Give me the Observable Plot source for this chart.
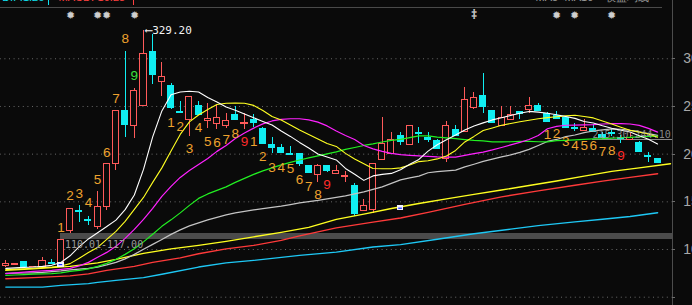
<!DOCTYPE html>
<html><head><meta charset="utf-8">
<script src="https://cdn.jsdelivr.net/npm/d3@7"></script>
<script src="https://cdn.jsdelivr.net/npm/@observablehq/plot@0.6"></script>
<style>
html,body{margin:0;padding:0;background:#0a0a0a;overflow:hidden}
#chart{width:692px;height:305px}
</style></head><body><div id="chart"></div>
<script>
// ---- candles (index 0..71) ----
const opens  = [82.6,83.9,86.5,81.4,81.6,86.0,85.5,119.0,140.5,131.0,
 123.5,144.2,190.0,245.1,229.4,250.3,306.9,275.9,271.0,243.7,
 235.3,250.0,235.0,231.9,229.8,241.3,231.1,235.3,225.9,209.9,
 206.3,200.2,199.7,187.1,178.4,187.1,179.5,175.9,166.2,140.3,
 141.8,193.4,200.4,218.6,209.9,222.2,216.8,213.3,195.2,224.9,
 223.1,248.6,260.8,244.8,229.4,236.1,244.0,246.6,250.3,242.4,
 239.5,238.2,227.8,224.1,226.6,220.3,221.9,216.7,215.1,211.5,
 198.1,194.5];
const closes = [85.2,85.2,81.6,81.7,87.6,85.0,110.01,142.8,139.5,130.0,
 144.5,189.2,244.8,230.8,265.7,304.5,283.5,280.7,248.6,242.7,
 259.8,241.3,237.1,237.8,234.3,236.1,232.2,232.5,210.9,206.3,
 201.1,199.2,190.0,180.1,187.9,182.2,181.9,177.4,136.8,145.9,
 189.9,210.9,215.1,212.6,229.8,220.7,214.4,205.7,229.1,219.1,
 256.3,259.1,249.3,232.9,238.2,240.6,242.4,250.0,245.1,233.6,
 237.1,227.3,226.7,227.7,223.1,217.2,220.9,215.6,216.8,202.1,
 197.1,191.0];
const highs  = [88.6,85.5,87.6,82.0,92.0,89.7,110.01,142.8,146.3,135.0,
 160.9,189.2,244.8,307.7,269.2,329.2,325.5,296.4,274.4,255.2,
 259.8,255.2,252.8,251.1,242.4,250.0,242.4,241.3,228.3,217.2,
 209.9,208.1,199.7,187.1,189.2,188.2,188.2,181.9,169.0,152.2,
 189.9,238.2,223.1,223.1,229.8,228.3,222.4,215.7,234.3,230.1,
 270.2,264.4,284.3,244.8,250.0,250.0,245.1,259.1,252.8,243.7,
 244.8,238.2,231.9,236.1,230.8,222.4,225.6,219.6,221.4,213.6,
 201.5,195.8];
const lows   = [81.0,83.6,81.3,81.2,81.3,84.8,83.4,117.00,128.4,125.3,
 121.1,141.0,182.9,217.5,216.2,250.3,272.8,260.5,246.6,242.7,
 218.9,241.3,226.6,225.6,227.3,236.1,225.9,228.3,210.9,200.4,
 201.1,199.2,187.1,180.1,170.7,181.2,179.5,170.7,134.7,140.3,
 137.6,193.4,200.4,209.1,208.8,211.5,212.6,205.7,191.6,219.1,
 223.1,246.6,243.0,231.9,229.4,236.1,236.1,242.4,245.1,233.6,
 237.1,227.3,223.3,224.1,223.1,215.4,218.6,211.5,215.1,202.1,
 191.6,191.0];

// ---- moving averages, one value per candle ----
const ma5 = [80.2,80.8,81.3,81.6,82.3,83.4,86.4,93.4,103.0,111.1,
 117.5,124.2,130.8,141.8,157.2,184.0,218.1,245.3,262.2,265.2,
 266.0,265.2,259.4,254.7,249.5,246.0,242.0,238.2,234.3,230.5,
 224.3,218.6,212.3,206.5,200.2,197.1,193.9,185.0,179.0,172.5,
 177.2,178.8,179.8,183.7,189.5,194.5,203.2,209.9,215.2,220.1,
 225.4,229.6,232.8,235.9,238.2,240.6,242.9,244.8,244.1,242.9,
 241.3,239.5,237.5,234.3,232.7,229.8,227.2,225.1,223.2,219.3,
 215.6,210.7];
const ma10 = [78.9,79.4,79.9,80.4,81.0,81.6,82.8,85.2,90.9,96.8,
 102.2,110.6,119.0,129.5,142.1,154.6,170.4,185.6,203.4,220.7,
 233.8,241.1,246.9,252.1,253.4,253.5,253.4,251.1,245.8,239.5,
 235.9,230.6,225.4,220.7,216.0,211.2,208.1,200.8,195.0,190.0,
 185.0,184.7,184.7,185.6,188.7,192.2,193.1,195.0,198.1,203.9,
 212.8,218.6,224.7,227.5,230.3,232.2,234.0,235.6,237.1,238.3,
 239.2,240.1,240.8,239.5,238.0,234.8,231.6,228.2,225.0,223.1,
 221.2,217.8];
const ma20 = [74.7,75.5,76.3,77.1,77.6,78.1,79.2,80.2,82.9,86.5,
 91.8,97.0,103.3,111.7,121.1,131.6,143.1,155.7,166.2,175.6,
 182.9,189.2,195.5,202.9,209.1,216.5,222.2,227.3,231.7,234.8,
 236.4,237.1,237.1,235.9,233.6,229.6,224.3,219.6,215.4,209.1,
 205.5,202.9,200.8,199.4,198.7,198.1,197.6,197.1,196.9,196.9,
 198.7,200.5,202.1,204.4,207.0,209.7,212.3,215.4,219.6,226.6,
 229.1,230.3,230.5,230.7,231.0,231.6,231.9,231.9,231.6,230.1,
 227.0,223.1];
const ma30 = [72.9,73.3,73.7,74.2,74.5,74.7,75.5,77.1,78.1,79.7,
 82.3,85.5,89.7,94.9,100.7,108.0,116.0,124.3,131.1,138.4,
 146.3,153.6,158.3,162.0,165.7,170.4,174.6,178.8,182.4,185.6,
 188.7,191.3,193.9,196.0,198.1,200.2,202.3,205.0,207.0,209.1,
 210.7,212.7,214.4,215.4,217.3,219.1,219.1,217.8,217.0,216.2,
 215.2,214.4,213.9,212.8,212.8,213.0,213.3,213.3,213.0,212.8,
 214.1,214.4,214.9,215.4,216.0,216.2,216.7,217.2,217.6,218.1,
 218.6,218.9];
const ma60 = [75.0,75.2,75.4,75.6,76.0,76.8,77.6,78.7,79.5,80.2,
 81.6,83.9,86.5,90.2,94.9,100.2,105.4,110.6,115.9,120.6,
 124.8,127.9,131.1,133.7,136.3,138.4,140.0,141.5,142.8,144.2,
 145.5,147.1,148.9,150.2,151.5,153.1,154.6,156.2,158.3,160.4,
 163.0,165.7,169.3,173.0,175.1,177.0,180.5,181.7,182.4,183.2,
 186.6,189.4,192.4,194.8,197.1,199.2,201.8,205.0,209.1,213.3,
 215.4,218.3,220.1,222.6,224.3,225.4,226.4,226.1,224.9,223.3,
 221.5,219.6];
// long averages, read at fewer points
const maYIdx = [0,3,7,10,12,15,18,21,24,27,30,33,36,39,42,45,48,51,54,57,60,63,66,69,72.4];
const maYVal = [78.1,79.7,82.3,86.0,89.7,96.0,100.7,104.3,108.5,113.3,118.0,123.2,131.6,137.1,143.0,148.3,153.1,157.8,162.4,167.1,171.9,177.0,181.9,185.6,190.0];
const maRIdx = [0,3,7,9,11,14,16,19,21,24,27,30,32,36,40,43,46,50,54,58,62,65,68,71];
const maRVal = [69.4,70.5,72.4,74.5,78.1,82.3,86.5,91.2,95.6,100.7,104.3,109.6,114.3,122.7,128.7,133.1,138.9,147.3,155.2,161.5,167.4,171.7,175.7,179.5];
const maCIdx = [0,4,6,9,10,12,15,17,21,24,27,32,36,40,43,47,51,55,58,62,65,68,71];
const maCVal = [60.6,60.6,62.4,64.2,65.6,67.7,70.5,74.0,81.6,86.0,88.6,93.9,97.3,102.7,105.1,110.8,116.6,121.4,125.0,129.0,131.8,134.6,138.6];

// ---- TD sequential counts ----
const tdIdx  = [6,7,8,9,10,11,12,13,14, 18,19,20,21,22,23,24,25,26, 27,28,29,30,31,32,33,34,35, 59,60,61,62,63,64,65,66,67];
const tdText = ["1","2","3","4","5","6","7","8","9", "1","2","3","4","5","6","7","8","9", "1","2","3","4","5","6","7","8","9", "1","2","3","4","5","6","7","8","9"];
const tdPos  = [122.9,156.0,158.8,149.1,173.5,201.8,258.1,321.0,281.8,
 232.9,228.3,205.7,227.7,213.0,212.3,214.9,221.4,213.3,
 213.3,196.9,185.8,185.8,184.7,173.2,165.4,157.8,168.0,
 220.1,221.7,212.6,209.1,209.1,209.1,202.1,203.2,198.7];
const tdKind = ["o","o","o","o","o","o","o","o","g", "o","o","o","o","o","o","o","o","r", "o","o","o","o","o","o","o","o","r", "o","o","o","o","o","o","o","o","r"];

// ---- signals, gaps, marks ----
const starIdx = [7,10,11,14,60,62,66];
const specialIdx = [51];
const markerIdx = [6,43];
const markerPrice = [84.2,143.3];
const gapBandStart = [6];  const gapBandLow = [110.01]; const gapBandHigh = [117.00];
const gapLineStart = [63.9]; const gapLineLow = [215.30]; const gapLineHigh = [244.10];
const peakIdx = 15, peakPrice = 329.20;
const gridTicks = [50,100,150,200,250,300];
const labelTicks = [100,150,200,250,300];
// header row (cut off at the top edge in the source)
const headTexts = ["DIF:1.26", "MACD:-10.28", "MA5<MA10", "收盘均线"];
const headPos   = [-0.4, 5.74, 57.7, 65.3];
const headKind  = ["c", "r", "g", "g"];
const headBars  = [4.65, 13.9];
const headBarKind = ["c", "r"];

const RED = "#ff5a5a", CYAN = "#10eef2", BG = "#0a0a0a";
const TDC = {o:"#eea22e", g:"#3ce03c", r:"#ff2a2a"};
const HC = {c:"#10e0f0", r:"#ff4040", g:"#9a9a9a"};
const MONO = "DejaVu Sans Mono, monospace";
const SANS = "Liberation Sans, Arial, sans-serif";

const candles = opens.map((o,i)=>({i, o, c:closes[i], h:highs[i], l:lows[i], up: closes[i] >= opens[i]}));
const series = (arr, idx) => arr.map((v,k)=>({i: idx ? idx[k] : k, v}));
const td = tdIdx.map((i,k)=>({i, t:tdText[k], p:tdPos[k], col:TDC[tdKind[k]]}));
const gapsBand = gapBandStart.map((s,k)=>({s, lo:gapBandLow[k], hi:gapBandHigh[k]}));
const gapsLine = gapLineStart.map((s,k)=>({s, lo:gapLineLow[k], hi:gapLineHigh[k]}));
const markers = markerIdx.map((i,k)=>({i, p:markerPrice[k]}));
const heads = headTexts.map((t,k)=>({t, x:headPos[k], col:HC[headKind[k]]}));
const bars = headBars.map((x,k)=>({x, col:HC[headBarKind[k]]}));

const AXIS_X = 72.6, LEFT_X = -0.6, TOP_PRICE = 353.8, STAR_PRICE = 345.4, HEAD_PRICE = 364.5;
const crisp = {shapeRendering:"crispEdges"};

const chart = Plot.plot({
  width: 692, height: 305, margin: 0,
  style: {background: BG, overflow: "hidden"},
  x: {type:"linear", domain:[0,71], range:[5.3,657.1], axis:null},
  y: {type:"linear", domain:[41.3,361.1], range:[305,0], axis:null},
  marks: [
    Plot.ruleY(gridTicks, {y:d=>d, x1:LEFT_X, x2:AXIS_X, stroke:"#6c6c6c", strokeDasharray:"1,3.6"}),
    Plot.ruleY([TOP_PRICE], {x1:LEFT_X, x2:71.5, stroke:"#4a4a4a", ...crisp}),
    Plot.ruleX([AXIS_X], {stroke:"#4c4c4c", ...crisp}),
    Plot.ruleY(gridTicks, {y:d=>d, x1:AXIS_X, x2:AXIS_X+0.35, stroke:"#6c6c6c", ...crisp}),
    Plot.text(labelTicks, {x:AXIS_X+1.2, y:d=>d, text:d=>d.toFixed(2), textAnchor:"start", fill:"#a8a8a8", fontSize:14, fontFamily:SANS}),
    // header fragments
    Plot.text(heads, {x:"x", y:HEAD_PRICE, text:"t", fill:"col", textAnchor:"start", fontSize:11, fontFamily:SANS}),
    Plot.ruleX(bars, {x:"x", y1:356.0, y2:361.1, stroke:"col", ...crisp}),
    // gaps
    Plot.rect(gapsBand, {x1:"s", x2:AXIS_X, y1:"lo", y2:"hi", fill:"#4b4b4b", ...crisp}),
    Plot.ruleY(gapsLine, {y:"lo", x1:"s", x2:AXIS_X, stroke:"#8a8a8a", ...crisp}),
    // candles
    Plot.ruleX(candles, {x:"i", y1:"l", y2:"h", stroke:d=>d.up?RED:CYAN, ...crisp}),
    Plot.rect(candles, {x1:d=>d.i-0.33, x2:d=>d.i+0.33, y1:"o", y2:"c", fill:d=>d.up?BG:CYAN, stroke:d=>d.up?RED:CYAN, ...crisp}),
    // moving averages
    Plot.line(series(maCVal, maCIdx), {x:"i", y:"v", stroke:"#1ec8f5", strokeWidth:1.4}),
    Plot.line(series(maRVal, maRIdx), {x:"i", y:"v", stroke:"#ff3a3a", strokeWidth:1.4}),
    Plot.line(series(maYVal, maYIdx), {x:"i", y:"v", stroke:"#ffff20", strokeWidth:1.4}),
    Plot.line(series(ma60), {x:"i", y:"v", stroke:"#c4c4c4", strokeWidth:1.2}),
    Plot.line(series(ma30), {x:"i", y:"v", stroke:"#22f022", strokeWidth:1.2}),
    Plot.line(series(ma20), {x:"i", y:"v", stroke:"#ff22ff", strokeWidth:1.2}),
    Plot.line(series(ma10), {x:"i", y:"v", stroke:"#ffff22", strokeWidth:1.1}),
    Plot.line(series(ma5), {x:"i", y:"v", stroke:"#ffffff", strokeWidth:1.1}),
    // markers
    Plot.rect(markers, {x1:d=>d.i-0.36, x2:d=>d.i+0.36, y1:d=>d.p-2.7, y2:d=>d.p+2.7, fill:"#f4f4ff", ...crisp}),
    Plot.ruleY(markers, {y:"p", x1:d=>d.i-0.2, x2:d=>d.i+0.2, stroke:"#1a2cff", strokeWidth:1.2}),
    // gap labels
    Plot.text(gapsBand, {x:"s", y:"lo", text:d=>`${d.lo.toFixed(2)}-${d.hi.toFixed(2)}`, textAnchor:"start", lineAnchor:"top", dx:4, dy:1, fill:"#9a9a9a", fontSize:10, fontFamily:MONO}),
    Plot.text(gapsLine, {x:"s", y:"lo", text:d=>`${d.lo.toFixed(2)}-${d.hi.toFixed(2)}`, textAnchor:"start", lineAnchor:"bottom", dx:0, dy:-2, fill:"#a0a0a0", fillOpacity:0.85, fontSize:10, fontFamily:MONO}),
    // TD counts
    Plot.text(td, {x:"i", y:"p", text:"t", fill:"col", fontSize:13.5, fontFamily:SANS}),
    // signals
    Plot.text(starIdx, {x:d=>d, y:STAR_PRICE, text:()=>"✹", fill:"#cfcfcf", fontSize:11}),
    Plot.text(specialIdx, {x:d=>d, y:STAR_PRICE, text:()=>"‡", fill:"#cfcfcf", fontSize:12, fontWeight:"bold"}),
    // peak annotation
    Plot.text([{i:peakIdx, p:peakPrice}], {x:"i", y:"p", text:d=>"⟵" + d.p.toFixed(2), textAnchor:"start", dx:2, fill:"#f2f2f2", fontSize:11, fontFamily:MONO})
  ]
});
document.getElementById("chart").appendChild(chart);
</script>
</body></html>
